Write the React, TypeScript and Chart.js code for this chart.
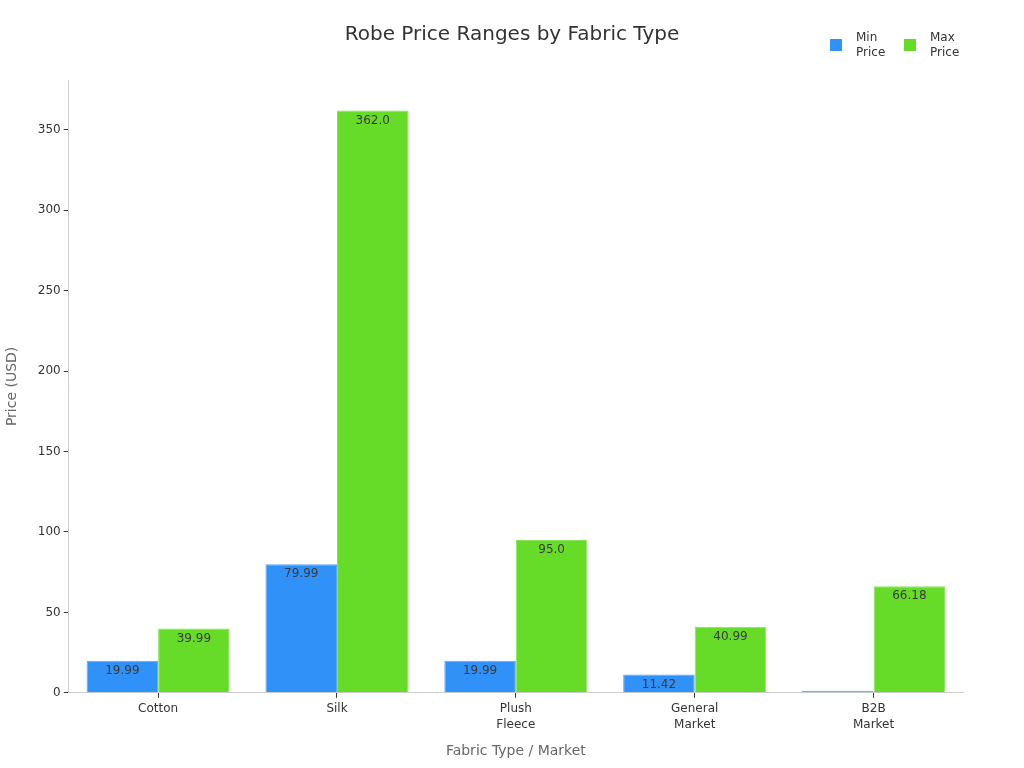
import React, { useEffect, useRef } from "react";
import { Chart, registerables } from "chart.js";

Chart.register(...registerables);

const categories: string[][] = [["Cotton"], ["Silk"], ["Plush", "Fleece"], ["General", "Market"], ["B2B", "Market"]];
const minPrice = [19.99, 79.99, 19.99, 11.42, 1.2];
const maxPrice = [39.99, 362.0, 95.0, 40.99, 66.18];
const seriesNames = [["Min", "Price"], ["Max", "Price"]];
const seriesColors = ["#3092F8", "#66DC28"];
const seriesBorders = ["#5AA8FA", "#86E457"];
const yMax = 381;
const yStep = 50;

const FONT = "'DejaVu Sans', sans-serif";

const fmt = (v: number) => (Number.isInteger(v) ? v.toFixed(1) : String(v));

const valueLabels = {
  id: "valueLabels",
  afterDatasetsDraw(chart: any) {
    const ctx = chart.ctx;
    chart.data.datasets.forEach((ds: any, di: number) => {
      const meta = chart.getDatasetMeta(di);
      meta.data.forEach((bar: any, i: number) => {
        const v = ds.data[i];
        const left = bar.x - bar.width / 2;
        const top = Math.min(bar.y, bar.base);
        const h = Math.abs(bar.base - bar.y);
        ctx.save();
        ctx.beginPath();
        ctx.rect(left, top, bar.width, h);
        ctx.clip();
        ctx.font = `12px ${FONT}`;
        ctx.fillStyle = "#3a3a3a";
        ctx.textAlign = "center";
        ctx.textBaseline = "middle";
        ctx.fillText(fmt(v), bar.x, top + 10);
        ctx.restore();
      });
    });
  },
};

const customLegend = {
  id: "customLegend",
  afterDraw(chart: any) {
    const ctx = chart.ctx;
    const starts = [830, 904];
    ctx.save();
    ctx.font = `12px ${FONT}`;
    ctx.textBaseline = "middle";
    ctx.textAlign = "left";
    seriesNames.forEach((lines, i) => {
      const x = starts[i];
      ctx.fillStyle = seriesColors[i];
      ctx.fillRect(x, 39, 12, 12);
      ctx.fillStyle = "#333333";
      lines.forEach((t, li) => ctx.fillText(t, x + 26, 38 + li * 15));
    });
    ctx.restore();
  },
};

export default function App() {
  const ref = useRef<HTMLCanvasElement>(null);
  useEffect(() => {
    document.body.style.margin = "0";
    Chart.defaults.font.family = FONT;
    const chart = new Chart(ref.current!, {
      type: "bar",
      data: {
        labels: categories,
        datasets: [
          {
            label: "Min Price",
            data: minPrice,
            backgroundColor: seriesColors[0],
            borderColor: seriesBorders[0],
            borderWidth: 1,
          },
          {
            label: "Max Price",
            data: maxPrice,
            backgroundColor: seriesColors[1],
            borderColor: seriesBorders[1],
            borderWidth: 1,
          },
        ],
      },
      options: {
        animation: false,
        responsive: false,
        maintainAspectRatio: false,
        layout: { padding: { left: 0, right: 0, top: 0, bottom: 4 } },
        datasets: { bar: { categoryPercentage: 0.8, barPercentage: 1 } },
        plugins: {
          legend: { display: false },
          tooltip: { enabled: false },
          title: {
            display: true,
            text: "Robe Price Ranges by Fabric Type",
            color: "#333333",
            font: { size: 20, weight: "normal", family: FONT },
            padding: { top: 23, bottom: 33 },
          },
        },
        scales: {
          x: {
            grid: {
              display: true,
              drawOnChartArea: false,
              drawTicks: true,
              tickLength: 5,
              offset: false,
              color: "#333333",
            },
            border: { display: true, color: "#cccccc" },
            ticks: { color: "#333333", font: { size: 12, lineHeight: 1.35 }, padding: 3 },
            title: {
              display: true,
              text: "Fabric Type / Market",
              color: "#666666",
              font: { size: 14 },
              padding: { top: 7, bottom: 4 },
            },
          },
          y: {
            min: 0,
            max: yMax,
            grid: {
              display: true,
              drawOnChartArea: false,
              drawTicks: true,
              tickLength: 5,
              color: "#333333",
            },
            border: { display: true, color: "#cccccc" },
            ticks: { stepSize: yStep, color: "#333333", font: { size: 12 }, padding: 3 },
            afterBuildTicks: (scale: any) => {
              scale.ticks = scale.ticks.filter((t: any) => t.value % yStep === 0);
            },
            title: {
              display: true,
              text: "Price (USD)",
              color: "#666666",
              font: { size: 14 },
              padding: { top: 4, bottom: 14 },
            },
          },
          spacer: {
            type: "linear",
            position: "right",
            display: true,
            grid: { display: false },
            border: { display: false },
            ticks: { display: false },
            afterFit: (scale: any) => {
              scale.width = 61;
            },
          },
        },
      },
      plugins: [valueLabels, customLegend],
    });
    return () => chart.destroy();
  }, []);
  return (
    <div style={{ width: 1024, height: 768 }}>
      <canvas ref={ref} width={1024} height={768} style={{ display: "block" }} />
    </div>
  );
}
